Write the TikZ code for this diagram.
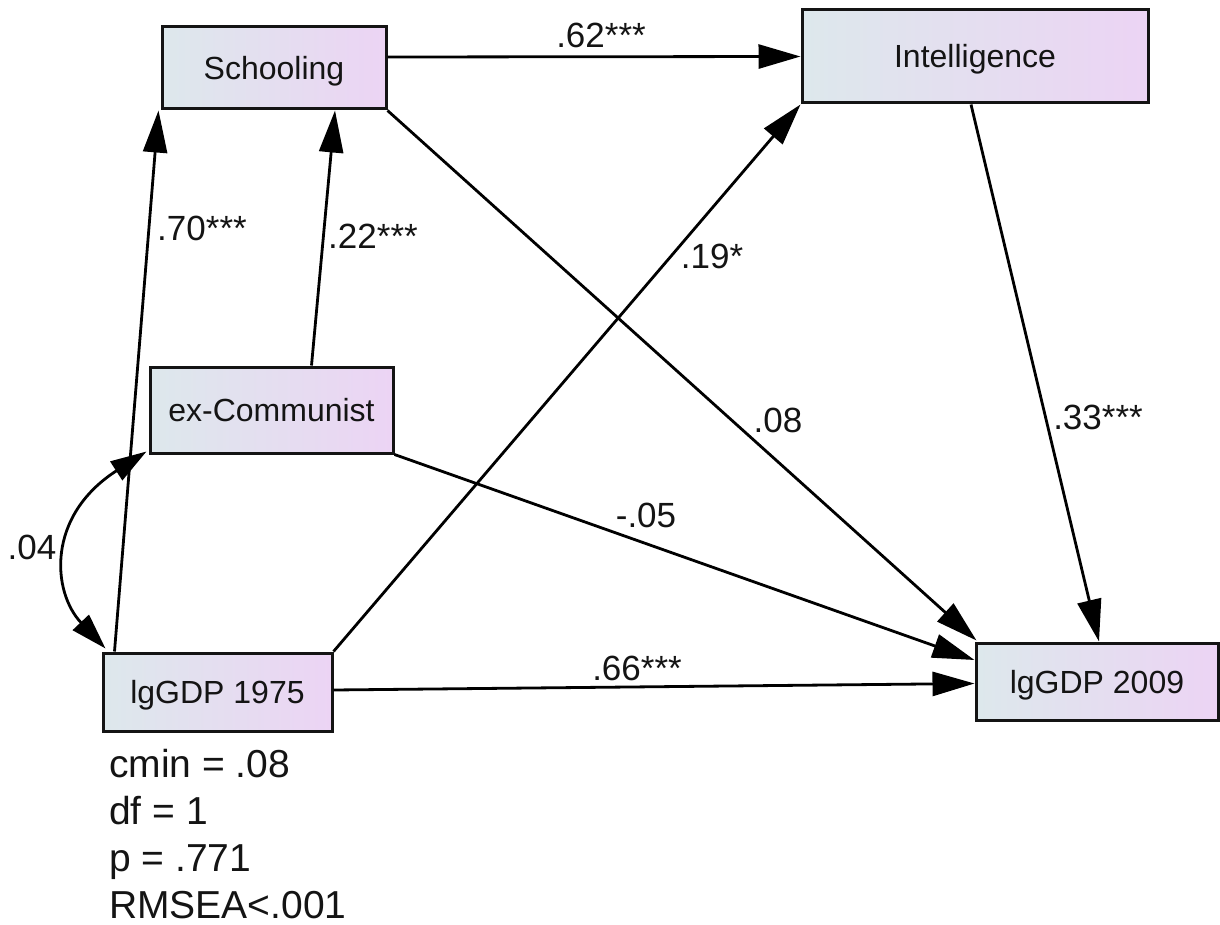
\documentclass[tikz,border=0pt]{standalone}
\usepackage{fontspec}
\setmainfont{Liberation Sans}
\usetikzlibrary{arrows.meta,calc}
\definecolor{boxL}{RGB}{221,232,236}
\definecolor{boxR}{RGB}{236,212,244}
\definecolor{ink}{RGB}{20,20,20}
\tikzset{
  var/.style={draw=ink, line width=3pt, left color=boxL, right color=boxR,
    inner sep=0pt, text height=23pt, text depth=0pt, text=ink,
    font=\fontsize{32}{38}\selectfont},
  path/.style={line width=2.8pt, draw=black, -{Triangle[length=42pt,width=24pt]}},
  cov/.style={line width=2.8pt, draw=black, {Triangle[length=36pt,width=22pt]}-{Triangle[length=36pt,width=22pt]}},
  coef/.style={inner sep=0pt, text=ink, font=\fontsize{35}{40}\selectfont},
  fit/.style={inner sep=0pt, anchor=base west, text=ink, font=\fontsize{39}{46}\selectfont}
}
\begin{document}
\begin{tikzpicture}[x=1pt,y=-1pt]
\useasboundingbox (0,0) rectangle (1220,925);
% variables
\node[var, minimum width=224pt, minimum height=82pt] (sch) at (274,68) {Schooling};
\node[var, minimum width=346pt, minimum height=93pt] (int) at (975,56.5) {Intelligence};
\node[var, minimum width=243pt, minimum height=86pt] (exc) at (271.5,410) {ex-Communist};
\node[var, minimum width=229pt, minimum height=78pt] (g75) at (217.5,692) {lgGDP 1975};
\node[var, minimum width=242pt, minimum height=77pt] (g09) at (1097,681.5) {lgGDP 2009};
% paths
\draw[path] ([yshift=11pt]sch.east) -- (int.west);
\draw[path] ([xshift=13pt]g75.north west) -- ([xshift=-2pt]sch.south west);
\draw[path] ([xshift=40pt]exc.north) -- ([xshift=61pt]sch.south);
\draw[path] (g75.north east) -- (int.south west);
\draw[path] (sch.south east) -- ([xshift=2pt,yshift=1pt]g09.north west);
\draw[path] (exc.south east) -- ([yshift=21.5pt]g09.west);
\draw[path] ([yshift=2pt]g75.east) -- ([yshift=-2pt]g09.west);
\draw[path] ([xshift=-4pt]int.south) -- ([xshift=2pt]g09.north);
\draw[cov] ([xshift=-2pt,yshift=3pt]exc.south west) .. controls (46,516) and (52,592) .. ([xshift=4pt,yshift=3pt]g75.north west);
% coefficients
\node[coef] (c1) at (601,35) {.62***};
\node[coef] (c2) at (202,228) {.70***};
\node[coef] (c3) at (373,236) {.22***};
\node[coef] (c4) at (712,256) {.19*};
\node[coef] (c5) at (778,420) {.08};
\node[coef] (c6) at (1098,417) {.33***};
\node[coef] (c7) at (646,515) {-.05};
\node[coef] (c8) at (637,668) {.66***};
\node[coef] (c9) at (32,547) {.04};
% fit statistics
\node[fit] (f1) at (109,777) {cmin = .08};
\node[fit] (f2) at (109,824) {df = 1};
\node[fit] (f3) at (109,871) {p = .771};
\node[fit] (f4) at (109,918) {RMSEA<.001};
\end{tikzpicture}
\end{document}
